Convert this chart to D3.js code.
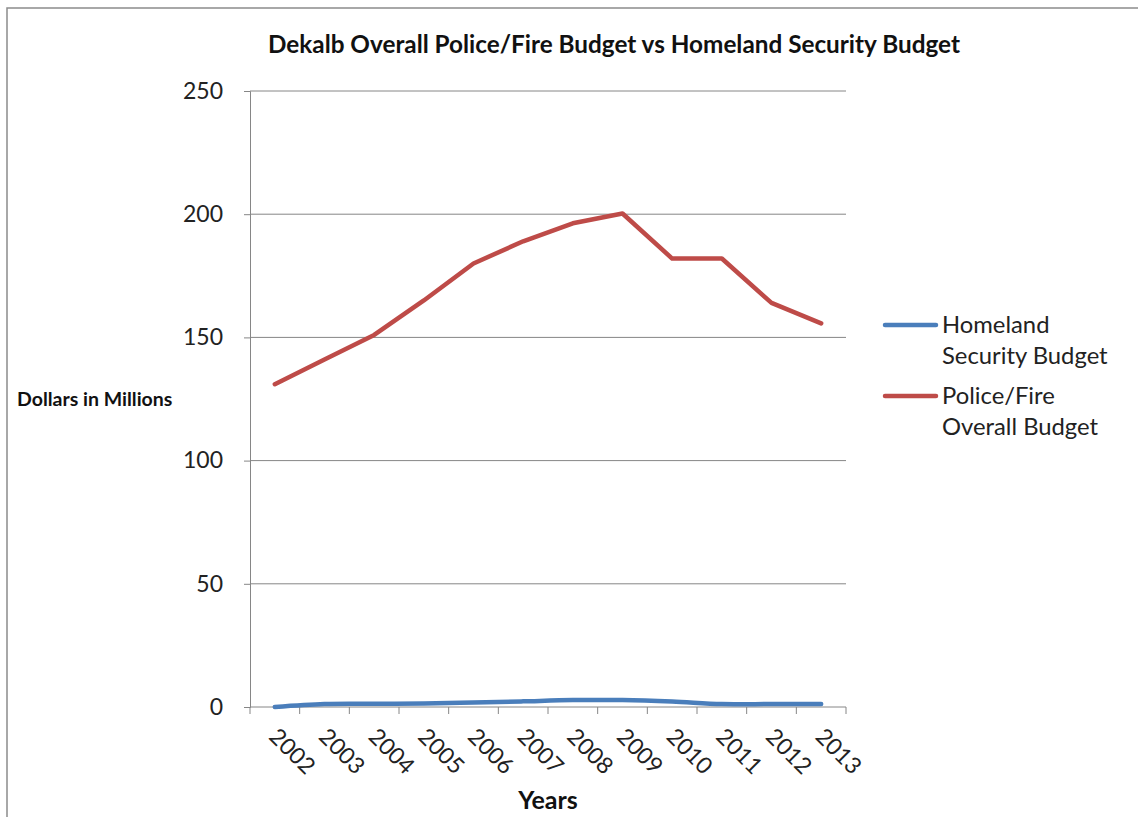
<!DOCTYPE html>
<html><head><meta charset="utf-8">
<script src="https://cdn.jsdelivr.net/npm/d3@7"></script>
<style>body{margin:0;background:#fff;} text{font-family:"Lato","Open Sans",sans-serif;}</style>
</head><body>
<svg id="c" width="1138" height="817"></svg>
<script>
const years = ["2002","2003","2004","2005","2006","2007","2008","2009","2010","2011","2012","2013"];
const homeland = [0, 1.2, 1.3, 1.4, 1.8, 2.3, 2.8, 2.8, 2.2, 1.2, 1.2, 1.2];
const policeFire = [131, 141, 151, 165, 180, 189, 196.3, 200.3, 182, 182, 164, 155.7];
const yTicks = [0, 50, 100, 150, 200, 250];
const seriesNames = [["Homeland","Security Budget"],["Police/Fire","Overall Budget"]];
const colors = ["#4a7ebb","#be4b48"];

const svg = d3.select("#c");
svg.append("rect").attr("x",7).attr("y",8).attr("width",1200).attr("height",900)
  .attr("fill","#fff").attr("stroke","#8c8c8c").attr("stroke-width",1.5);

const L=250, R=846, T=91, B=707;
const x = d3.scaleBand().domain(years).range([L,R]);
const y = d3.scaleLinear().domain([0,250]).range([B,T]);

// gridlines
svg.append("g").selectAll("line").data(yTicks.filter(d=>d>0)).join("line")
  .attr("x1",L).attr("x2",R).attr("y1",d=>y(d)).attr("y2",d=>y(d))
  .attr("stroke","#868686").attr("stroke-width",1);

// y axis
const ya = svg.append("g").attr("transform",`translate(${L},0)`)
  .call(d3.axisLeft(y).tickValues(yTicks).tickSize(6).tickPadding(21));
ya.select(".domain").attr("stroke","#868686");
ya.selectAll(".tick line").attr("stroke","#868686");
ya.selectAll("text").attr("font-size",23).attr("fill","#222").attr("font-family","Lato, sans-serif");

// x axis
const xa = svg.append("g").attr("transform",`translate(0,${B})`)
  .call(d3.axisBottom(x).tickSize(0).tickFormat(""));
xa.select(".domain").attr("stroke","#868686").attr("d",`M${L},0H${R}`);
svg.append("g").selectAll("line").data(years.concat(["end"])).join("line")
  .attr("x1",(d,i)=>L+i*x.step()).attr("x2",(d,i)=>L+i*x.step())
  .attr("y1",B).attr("y2",B+7).attr("stroke","#868686");
svg.append("g").selectAll("text").data(years).join("text")
  .attr("transform",d=>`translate(${x(d)+x.bandwidth()/2-7},${B+31}) rotate(45)`)
  .attr("font-size",23).attr("fill","#222").text(d=>d);

// lines
const cx = d=>x(d)+x.bandwidth()/2;
const lineH = d3.line().x((d,i)=>cx(years[i])).y(d=>y(d)).curve(d3.curveCatmullRom.alpha(0.5));
const lineP = d3.line().x((d,i)=>cx(years[i])).y(d=>y(d));
svg.append("path").datum(homeland).attr("d",lineH).attr("fill","none")
  .attr("stroke",colors[0]).attr("stroke-width",4.5).attr("stroke-linecap","round").attr("stroke-linejoin","round");
svg.append("path").datum(policeFire).attr("d",lineP).attr("fill","none")
  .attr("stroke",colors[1]).attr("stroke-width",4.5).attr("stroke-linecap","round").attr("stroke-linejoin","round");

// title
svg.append("text").attr("x",614).attr("y",53).attr("text-anchor","middle")
  .attr("font-size",24.3).attr("font-weight","bold").attr("fill","#111")
  .text("Dekalb Overall Police/Fire Budget vs Homeland Security Budget");
// axis titles
svg.append("text").attr("x",17).attr("y",406).attr("font-size",19.5).attr("font-weight","bold").attr("fill","#111")
  .text("Dollars in Millions");
svg.append("text").attr("x",548).attr("y",809).attr("text-anchor","middle").attr("font-size",25)
  .attr("font-weight","bold").attr("fill","#111").text("Years");

// legend
const lg = svg.append("g");
const legY = [325, 396];
seriesNames.forEach((nm,i)=>{
  lg.append("line").attr("x1",885).attr("x2",936).attr("y1",legY[i]).attr("y2",legY[i])
    .attr("stroke",colors[i]).attr("stroke-width",4.5).attr("stroke-linecap","round");
  nm.forEach((t,j)=>{
    lg.append("text").attr("x",942).attr("y",legY[i]+8+j*31).attr("font-size",23.8).attr("fill","#222").text(t);
  });
});
</script>
</body></html>
